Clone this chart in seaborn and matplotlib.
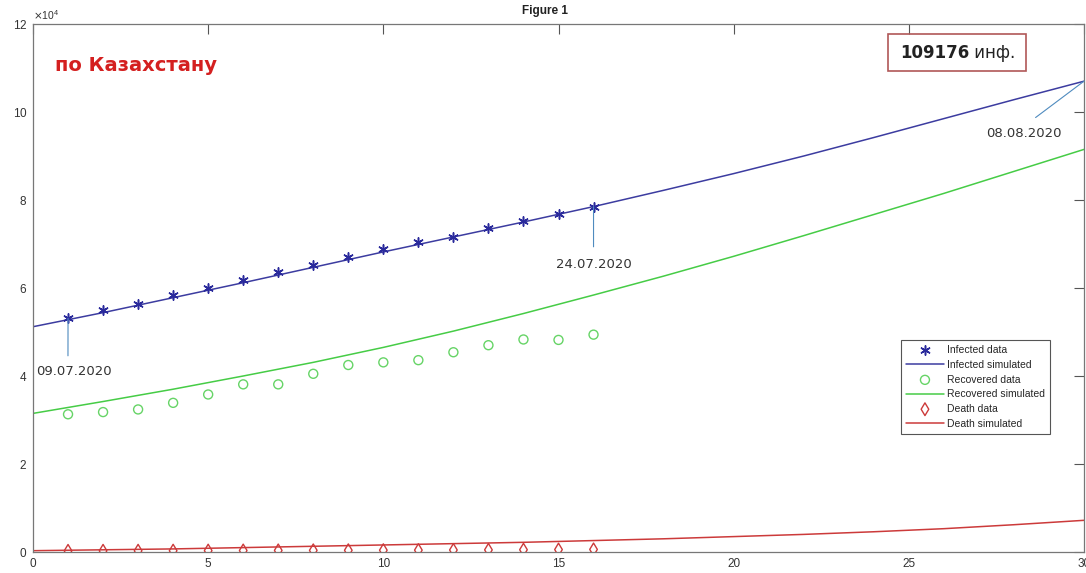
import matplotlib
matplotlib.use("Agg")
import matplotlib.pyplot as plt
import matplotlib.ticker as mticker
from matplotlib.patches import Rectangle
import seaborn as sns

# ---- data ----
days = [1, 2, 3, 4, 5, 6, 7, 8, 9, 10, 11, 12, 13, 14, 15, 16]
infected = [53100, 55000, 56400, 58300, 60100, 61900, 63600, 65200,
            67000, 68800, 70500, 71700, 73600, 75200, 76900, 78500]
recovered = [31300, 31800, 32400, 33900, 35800, 38100, 38100, 40500,
             42500, 43100, 43600, 45400, 47000, 48300, 48200, 49400]
deaths = [264, 275, 290, 303, 320, 340, 360, 375,
          390, 410, 430, 460, 490, 520, 555, 585]

sim_days = [0, 2, 4, 6, 8, 10, 12, 14, 16, 18, 20, 22, 24, 26, 28, 30]
infected_sim = [51200, 54400, 57800, 61200, 64700, 68200, 71600, 75000,
                78500, 82200, 86000, 90000, 94200, 98500, 102800, 107000]
recovered_sim = [31500, 34200, 37000, 40000, 43100, 46500, 50200, 54200,
                 58400, 62700, 67200, 71900, 76700, 81500, 86500, 91500]
death_sim = [300, 500, 700, 1000, 1300, 1600, 1900, 2200,
             2600, 3000, 3500, 4000, 4600, 5300, 6200, 7200]

x_ticks = [0, 5, 10, 15, 20, 25, 30]
y_ticks = [0, 20000, 40000, 60000, 80000, 100000, 120000]

# ---- style ----
sns.set_style("white")
plt.rcParams['font.family'] = ['Liberation Sans', 'DejaVu Sans']

C_INF = '#2a2a9c'
C_INF_LINE = '#3c3ca0'
C_REC = '#66d466'
C_REC_LINE = '#46cc46'
C_DEATH = '#cc3a3a'
C_ANN = '#4f8bbf'

fig = plt.figure(figsize=(10.86, 5.73), dpi=100)
ax = fig.add_axes([33/1086, 21/573, 1051/1086, 528/573])

sns.scatterplot(x=days, y=infected, ax=ax, marker=(6, 2, 0), s=45,
                color=C_INF, edgecolor=C_INF, linewidth=1.1,
                label='Infected data', zorder=3)
sns.lineplot(x=sim_days, y=infected_sim, ax=ax, color=C_INF_LINE,
             linewidth=1.1, label='Infected simulated')
sns.scatterplot(x=days, y=recovered, ax=ax, marker='o', s=42,
                facecolors='none', edgecolor=C_REC, linewidth=1.0,
                label='Recovered data', zorder=3)
sns.lineplot(x=sim_days, y=recovered_sim, ax=ax, color=C_REC_LINE,
             linewidth=1.1, label='Recovered simulated')
sns.scatterplot(x=days, y=deaths, ax=ax, marker='d', s=42,
                facecolors='none', edgecolor=C_DEATH, linewidth=1.0,
                label='Death data', zorder=3)
sns.lineplot(x=sim_days, y=death_sim, ax=ax, color=C_DEATH,
             linewidth=1.1, label='Death simulated')

# ---- axes ----
ax.set_xlim(0, 30)
ax.set_ylim(0, 120000)
ax.set_xticks(x_ticks)
ax.set_yticks(y_ticks)
fmt = mticker.ScalarFormatter(useMathText=True)
fmt.set_powerlimits((4, 4))
ax.yaxis.set_major_formatter(fmt)
ax.yaxis.get_offset_text().set_fontsize(7.5)
ax.yaxis.get_offset_text().set_color('#444444')
ax.tick_params(direction='in', length=7, width=0.8, top=True, right=True,
               labelsize=8.5, labelcolor='#333333', color='#555555', pad=4)
for sp in ax.spines.values():
    sp.set_color('#777777')
    sp.set_linewidth(0.9)
ax.set_xlabel('')
ax.set_ylabel('')

# ---- legend ----
leg = ax.legend(loc='upper left', bbox_to_anchor=((901-33)/1051, (552-340)/528),
                fontsize=7.5, frameon=True, fancybox=False, framealpha=1,
                edgecolor='#555555', handlelength=3.6, labelspacing=0.45,
                borderpad=0.5, handletextpad=0.3, borderaxespad=0)
leg.get_frame().set_linewidth(0.8)

# ---- annotations ----
ann_kw = dict(textcoords='offset points', fontsize=9.5, color='#333333',
              family=['DejaVu Sans'], va='center', ha='center')
ax.annotate('09.07.2020', xy=(days[0], infected[0]), xytext=(4.3, -38),
            arrowprops=dict(arrowstyle='-', color=C_ANN, lw=0.8,
                            relpos=(0.42, 1.0), shrinkA=4, shrinkB=0),
            **ann_kw)
ax.annotate('24.07.2020', xy=(days[-1], infected[-1]), xytext=(0, -42),
            arrowprops=dict(arrowstyle='-', color=C_ANN, lw=0.8,
                            relpos=(0.5, 1.0), shrinkA=6, shrinkB=0),
            **ann_kw)
ax.annotate('08.08.2020', xy=(sim_days[-1], infected_sim[-1]), xytext=(-43.6, -37.4),
            arrowprops=dict(arrowstyle='-', color=C_ANN, lw=0.8,
                            relpos=(0.5, 1.0), shrinkA=7, shrinkB=0),
            **ann_kw)

# ---- titles / labels ----
fig.text(545/1086, 1 - 11/573, 'Figure 1', ha='center', va='center',
         fontsize=8.5, fontweight='bold', color='#222222')
fig.text(55/1086, 1 - 71/573, 'по Казахстану', ha='left', va='baseline',
         fontsize=14, fontweight='bold', color='#d42020',
         family=['DejaVu Sans'])

fig.patches.append(Rectangle((888/1086, 1 - 71/573), 138/1086, 37/573,
                             transform=fig.transFigure, fill=False,
                             edgecolor='#b05858', linewidth=1.2))
t1 = fig.text(900/1086, 1 - 58.5/573, '109176', ha='left', va='baseline',
              fontsize=12, fontweight='bold', color='#222222',
              family=['DejaVu Sans'])
ax.annotate(' инф.', xy=(1, 0), xycoords=t1, ha='left', va='bottom',
            fontsize=12, color='#222222', family=['DejaVu Sans'],
            annotation_clip=False)

fig.savefig('out.png', dpi=100)
